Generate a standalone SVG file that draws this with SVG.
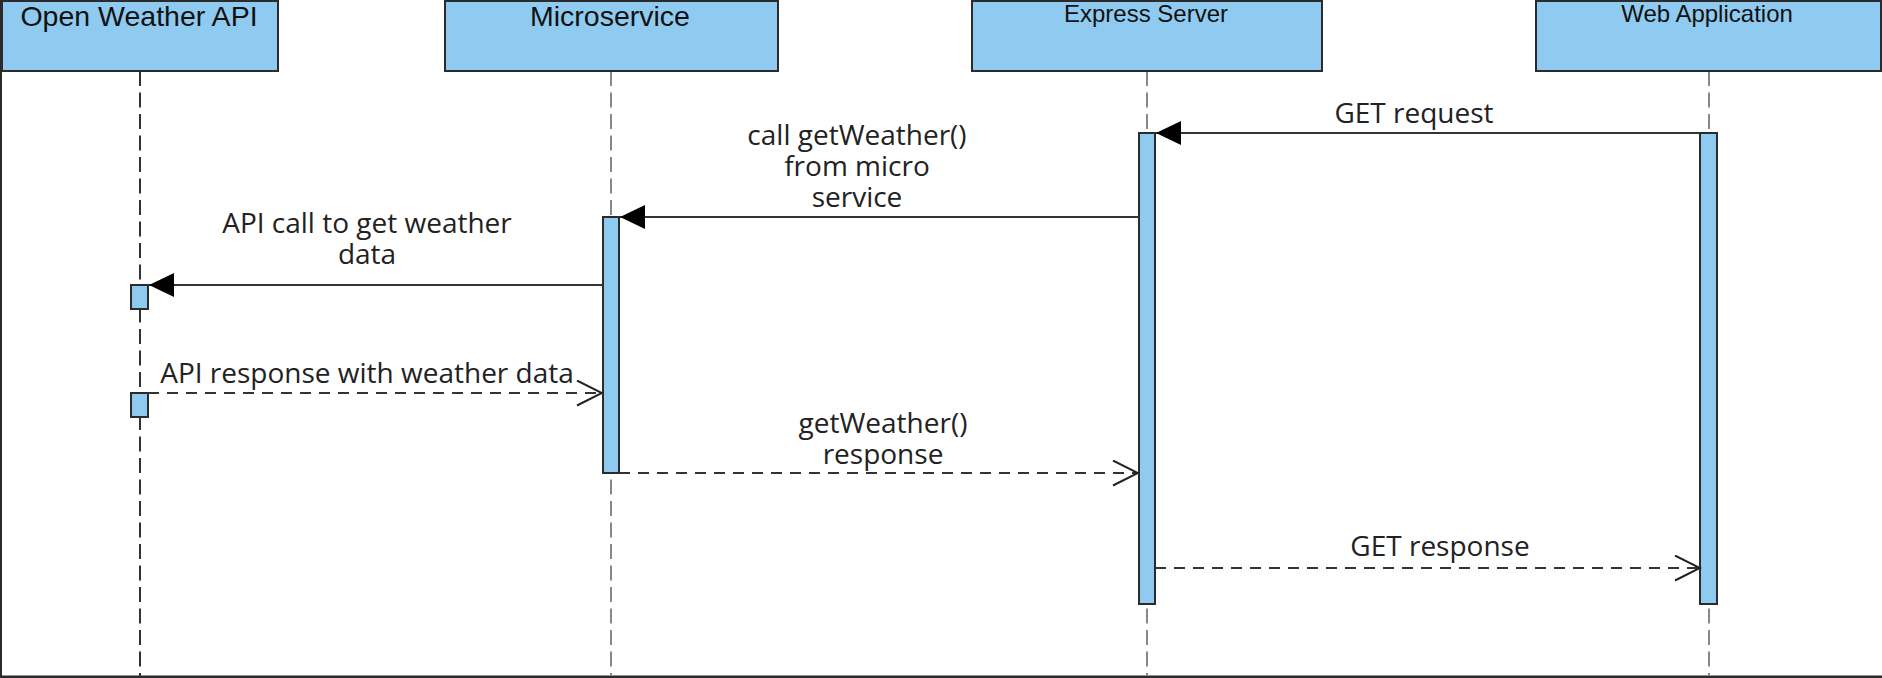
<svg xmlns="http://www.w3.org/2000/svg" width="1882" height="678" viewBox="0 0 1882 678">
<style>
.box{fill:#8fcbf0;stroke:#2b2b2b;stroke-width:2}
.bar{fill:#8fcbf0;stroke:#2b2b2b;stroke-width:2}
.life{stroke:#888;stroke-width:2;stroke-dasharray:15 6.5;fill:none}
.life.dark{stroke:#333}
.title{font-family:"Liberation Sans",Arial,sans-serif;fill:#111;text-anchor:middle}
.t28{font-size:28.5px}
.t24{font-size:24px}
.msg{stroke:#333;stroke-width:2;fill:none}
.ret{stroke:#333;stroke-width:2;fill:none;stroke-dasharray:11 8}
.lbl{font-family:"Open Sans","Noto Sans",sans-serif;font-size:28px;fill:#222;text-anchor:middle}
</style>
<defs>
<marker id="filled" markerUnits="userSpaceOnUse" markerWidth="26" markerHeight="26" refX="25" refY="12.5" orient="auto" viewBox="0 0 26 26">
<path d="M0,0.5 L25,12.5 L0,24.5 Z" fill="#000"/>
</marker>
<marker id="open" markerUnits="userSpaceOnUse" markerWidth="28" markerHeight="28" refX="26" refY="13.5" orient="auto" viewBox="0 0 28 28">
<path d="M1,1 L26,13.5 L1,26" fill="none" stroke="#222" stroke-width="2"/>
</marker>
</defs>
<rect x="0" y="0" width="1882" height="678" fill="#fff"/>
<line x1="1" y1="0" x2="1" y2="678" stroke="#2b2b2b" stroke-width="2"/>
<line x1="0" y1="677" x2="1882" y2="677" stroke="#2b2b2b" stroke-width="3"/>

<g id="lifelines">
<line class="life dark" x1="140" y1="71" x2="140" y2="676"/>
<line class="life" x1="611" y1="71" x2="611" y2="676"/>
<line class="life" x1="1147" y1="71" x2="1147" y2="676"/>
<line class="life" x1="1709" y1="71" x2="1709" y2="676"/>
</g>

<g id="open-weather-api">
<rect class="box" x="2" y="1" width="276" height="70"/>
<text class="title t28" x="139" y="26">Open Weather API</text>
</g>
<g id="microservice">
<rect class="box" x="445" y="1" width="333" height="70"/>
<text class="title t28" x="610" y="26">Microservice</text>
</g>
<g id="express-server">
<rect class="box" x="972" y="1" width="350" height="70"/>
<text class="title t24" x="1146" y="22">Express Server</text>
</g>
<g id="web-application">
<rect class="box" x="1536" y="1" width="345" height="70"/>
<text class="title t24" x="1707" y="22">Web Application</text>
</g>

<g id="activations">
<rect id="act-express" class="bar" x="1139" y="133" width="16" height="471"/>
<rect id="act-web" class="bar" x="1700" y="133" width="17" height="471"/>
<rect id="act-micro" class="bar" x="603" y="217" width="16" height="256"/>
<rect id="act-ow1" class="bar" x="131" y="285" width="17" height="24"/>
<rect id="act-ow2" class="bar" x="131" y="393" width="17" height="24"/>
</g>

<g id="connectors">
<line class="msg" x1="1700" y1="133" x2="1156" y2="133" marker-end="url(#filled)"/>
<line class="msg" x1="1139" y1="217" x2="620" y2="217" marker-end="url(#filled)"/>
<line class="msg" x1="603" y1="285" x2="149" y2="285" marker-end="url(#filled)"/>
<line class="ret" x1="148" y1="393" x2="602" y2="393" marker-end="url(#open)"/>
<line class="ret" x1="619" y1="473" x2="1138" y2="473" marker-end="url(#open)"/>
<line class="ret" x1="1155" y1="568" x2="1700" y2="568" marker-end="url(#open)"/>
</g>

<g id="labels">
<text class="lbl" x="1414" y="123">GET request</text>
<text class="lbl" x="857" y="145">call getWeather()<tspan x="857" dy="31">from micro</tspan><tspan x="857" dy="31">service</tspan></text>
<text class="lbl" x="367" y="233">API call to get weather<tspan x="367" dy="31">data</tspan></text>
<text class="lbl" x="367" y="383">API response with weather data</text>
<text class="lbl" x="883" y="433">getWeather()<tspan x="883" dy="31">response</tspan></text>
<text class="lbl" x="1440" y="556">GET response</text>
</g>
</svg>
